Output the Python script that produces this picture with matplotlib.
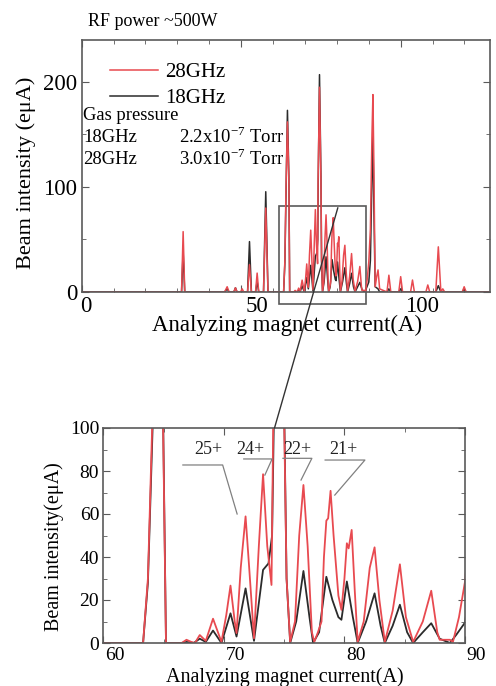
import matplotlib
matplotlib.use("Agg")
import matplotlib.pyplot as plt
from matplotlib.patches import Rectangle, ConnectionPatch
from matplotlib.transforms import ScaledTranslation
from matplotlib.ticker import MultipleLocator

plt.rcParams['font.family'] = ['Liberation Serif', 'DejaVu Serif']
plt.rcParams['mathtext.fontset'] = 'custom'
plt.rcParams['mathtext.rm'] = 'Liberation Serif'

# spectrum vertices: magnet current (A), beam intensity (euA)
red_x = [0, 31.3, 31.8, 32.3, 44.8, 45.6, 46.2, 47.7, 48.2, 48.7, 49.8, 50.3, 50.8,
         52.0, 52.6, 53.2, 54.5, 55.0, 55.5, 57.0, 57.7, 58.4,
         63.3, 63.7, 64.05, 64.5, 64.95, 65.2, 66.5, 66.9, 67.3, 67.6, 68.0, 68.5,
         69.1, 69.8, 70.2, 70.55, 70.9, 71.05, 71.4, 71.8, 72.1, 72.5, 72.9, 73.25,
         73.6, 73.95, 74.1, 74.55, 75.0, 75.2, 75.5, 75.9, 76.25, 76.6, 76.95, 77.3,
         77.5, 77.8, 77.95, 78.1, 78.3, 78.5, 78.65, 78.85, 79.1, 79.5, 79.75, 80.0,
         80.2, 80.35, 80.6, 80.85, 81.1, 81.6, 82.1, 82.5, 82.9, 83.35, 84.0, 84.6,
         85.1, 85.7, 86.5, 87.2, 87.7, 87.9, 88.75, 89.0, 89.5, 90.0, 90.5, 91.0,
         91.3, 91.6, 92.0, 92.5, 92.9, 93.4, 95.7, 96.3, 96.9, 99.4, 100.0, 100.6,
         103.1, 103.7, 104.3, 107.9, 108.5, 109.1, 111.0, 111.8, 112.6, 113.2, 113.8,
         119.3, 119.9, 120.5, 128]
red_y = [0, 0, 57.5, 0, 0, 5, 0, 0, 4, 0, 0, 3, 0,
         0, 26, 0, 0, 18, 0, 0, 80, 0,
         0, 30, 100, 162, 105, 0, 0, 1.5, 0.5, 0, 3.7, 1,
         11.3, 0.5, 13, 26.7, 10, 4.6, 35, 58.9, 35, 2.2, 45, 78.5,
         45, 27, 105, 195, 105, 30, 0.5, 10, 50, 73.5, 45, 5,
         0.5, 5, 7.5, 10, 40, 56.9, 58, 70.8, 50, 22, 15.4, 30,
         46.4, 44, 52.6, 25, 0.5, 10, 35, 44.5, 20, 0.5, 15, 36.6,
         12, 0.5, 10, 24.3, 5, 1.5, 1.5, 0.5, 12, 28.5, 60, 150,
         188, 120, 5, 15, 21, 3, 0, 16, 0, 0, 14.6, 0,
         0, 11.4, 0, 0, 6.7, 0, 0, 43, 0, 3, 0,
         0, 5, 0, 0]

black_x = [0, 31.3, 31.8, 32.3, 44.8, 45.6, 46.2, 47.7, 48.2, 48.7,
           52.0, 52.6, 53.2, 54.5, 55.0, 55.5, 57.0, 57.7, 58.4,
           63.3, 63.7, 64.1, 64.5, 64.95, 65.2, 66.5, 66.9, 67.5, 68.0, 68.5,
           69.1, 69.8, 70.55, 71.05, 71.8, 72.5, 73.25, 73.7, 74.0, 74.15, 74.55,
           75.0, 75.2, 75.5, 76.0, 76.6, 77.1, 77.4, 77.9, 78.5, 79.0, 79.5, 79.75,
           80.2, 80.7, 81.1, 81.8, 82.5, 83.0, 83.35, 84.0, 84.6, 85.2, 85.7, 86.5,
           87.2, 87.9, 88.75, 89.3, 90.0, 90.5, 91.0, 91.3, 91.6, 92.0, 92.9, 93.4,
           95.7, 96.3, 96.9, 99.4, 100.0, 100.6, 111.0, 111.8, 112.6, 119.3, 119.9,
           120.5, 128]
black_y = [0, 0, 38.4, 0, 0, 3, 0, 0, 4, 0,
           0, 48, 0, 0, 10, 0, 0, 95.5, 0,
           0, 28, 102, 173, 110, 0, 0, 0.5, 0, 2, 0.5,
           5.8, 0, 13.8, 3, 25.4, 1, 34, 37, 50, 105, 207,
           110, 30, 0, 10, 33.5, 12, 0, 5, 30.8, 20, 12, 10.8,
           28.6, 12, 0, 10, 23.1, 8, 0, 8, 17.8, 5, 0, 5,
           9.2, 2, 0, 4, 9.5, 30, 110, 150, 80, 5, 3, 0,
           0, 3, 0, 0, 3, 0, 0, 6, 0, 0, 3,
           0, 0]

ion_labels = ['25+', '24+', '22+', '21+']
label_xy = [(68.7, 89.8), (72.2, 89.8), (76.1, 89.8), (79.9, 89.8)]
# leader lines: underline start, underline end, tip
leader_pts = [[(66.6, 82.8), (69.9, 82.8), (71.1, 60.0)],
              [(71.65, 85.6), (74.0, 85.6), (73.4, 78.1)],
              [(74.9, 85.9), (77.3, 85.9), (76.4, 75.8)],
              [(78.4, 85.1), (81.7, 85.1), (79.2, 68.8)]]

red = '#e84a50'
black = '#2b2b2b'
frame = '#5a5a5a'

fig = plt.figure(figsize=(4.96, 6.86), dpi=100)
ax1 = fig.add_axes([81.7 / 496, 1 - 292 / 686, 408.3 / 496, 252 / 686])
ax2 = fig.add_axes([103.3 / 496, 1 - 643 / 686, 361.7 / 496, 215 / 686])

for ax, lw in ((ax1, 1.1), (ax2, 1.3)):
    ax.plot(black_x, black_y, color=black, lw=lw)
    ax.plot(red_x, red_y, color=red, lw=lw)
    for s in ax.spines.values():
        s.set_color(frame)
        s.set_linewidth(1.2)
    ax.tick_params(which='both', direction='in', top=True, right=True, color=frame)
    ax.tick_params(which='major', length=5)
    ax.tick_params(which='minor', length=3)

# top panel
ax1.set_xlim(0, 128)
ax1.set_ylim(0, 240)
ax1.set_xticks([0, 50, 100])
ax1.set_yticks([0, 100, 200])
ax1.xaxis.set_minor_locator(MultipleLocator(10))
ax1.yaxis.set_minor_locator(MultipleLocator(50))
ax1.tick_params(labelsize=16.5, pad=3)
ax1.set_xlabel('Analyzing magnet current(A)', fontsize=16.5)
ax1.set_ylabel('Beam intensity (eμA)', fontsize=16)
ax1.xaxis.set_label_coords(0.503, -0.092)
ax1.yaxis.set_label_coords(-0.112, 0.472)
for lab, dx in zip(ax1.get_xticklabels(), [4.5, 16, 21.5]):
    lab.set_transform(lab.get_transform() + ScaledTranslation(dx / 100, 0, fig.dpi_scale_trans))

ax1.legend(ax1.lines[::-1], ['28GHz', '18GHz'], loc='upper left',
           bbox_to_anchor=(0.069, 0.91), frameon=False, fontsize=15,
           handlelength=2.3, handletextpad=0.35, labelspacing=0.3,
           borderpad=0, borderaxespad=0)

ax1.add_patch(Rectangle((62, -11.4), 27, 93.4, fill=False, edgecolor=frame,
                        lw=1.2, clip_on=False))

# bottom panel
ax2.set_xlim(60, 90)
ax2.set_ylim(0, 100)
ax2.set_xticks([60, 70, 80, 90])
ax2.set_yticks([0, 20, 40, 60, 80, 100])
ax2.xaxis.set_minor_locator(MultipleLocator(5))
ax2.yaxis.set_minor_locator(MultipleLocator(10))
ax2.tick_params(labelsize=14, pad=3)
ax2.set_xlabel('Analyzing magnet current(A)', fontsize=14.5)
ax2.set_ylabel('Beam intensity(eμA)', fontsize=14.5)
ax2.xaxis.set_label_coords(0.502, -0.112)
ax2.yaxis.set_label_coords(-0.108, 0.448)
for lab in ax2.get_xticklabels():
    lab.set_transform(lab.get_transform() + ScaledTranslation(0.115, 0, fig.dpi_scale_trans))

for txt, (tx, ty), pts in zip(ion_labels, label_xy, leader_pts):
    ax2.text(tx, ty, txt, fontsize=13, ha='center', va='center', color='#222222')
    ax2.plot([p[0] for p in pts], [p[1] for p in pts], color='#808080', lw=0.9)

con = ConnectionPatch(xyA=(80.3, 80.3), coordsA=ax1.transData,
                      xyB=(74.2, 100), coordsB=ax2.transData,
                      color='#333333', lw=1.0)
fig.add_artist(con)

fig.text(88 / 496, 1 - 21.7 / 686, 'RF power ~500W', fontsize=13, va='center')
fig.text(83 / 496, 1 - 115 / 686, 'Gas pressure', fontsize=13.4, va='center')
fig.text(83 / 496, 1 - 137 / 686, '18GHz', fontsize=13.4, va='center')
fig.text(83 / 496, 1 - 159 / 686, '28GHz', fontsize=13.4, va='center')
fig.text(179 / 496, 1 - 137 / 686, r'2.2x10$^{-7}$ Torr', fontsize=13.4, va='center')
fig.text(179 / 496, 1 - 159 / 686, r'3.0x10$^{-7}$ Torr', fontsize=13.4, va='center')

fig.savefig('out.png', dpi=100)
